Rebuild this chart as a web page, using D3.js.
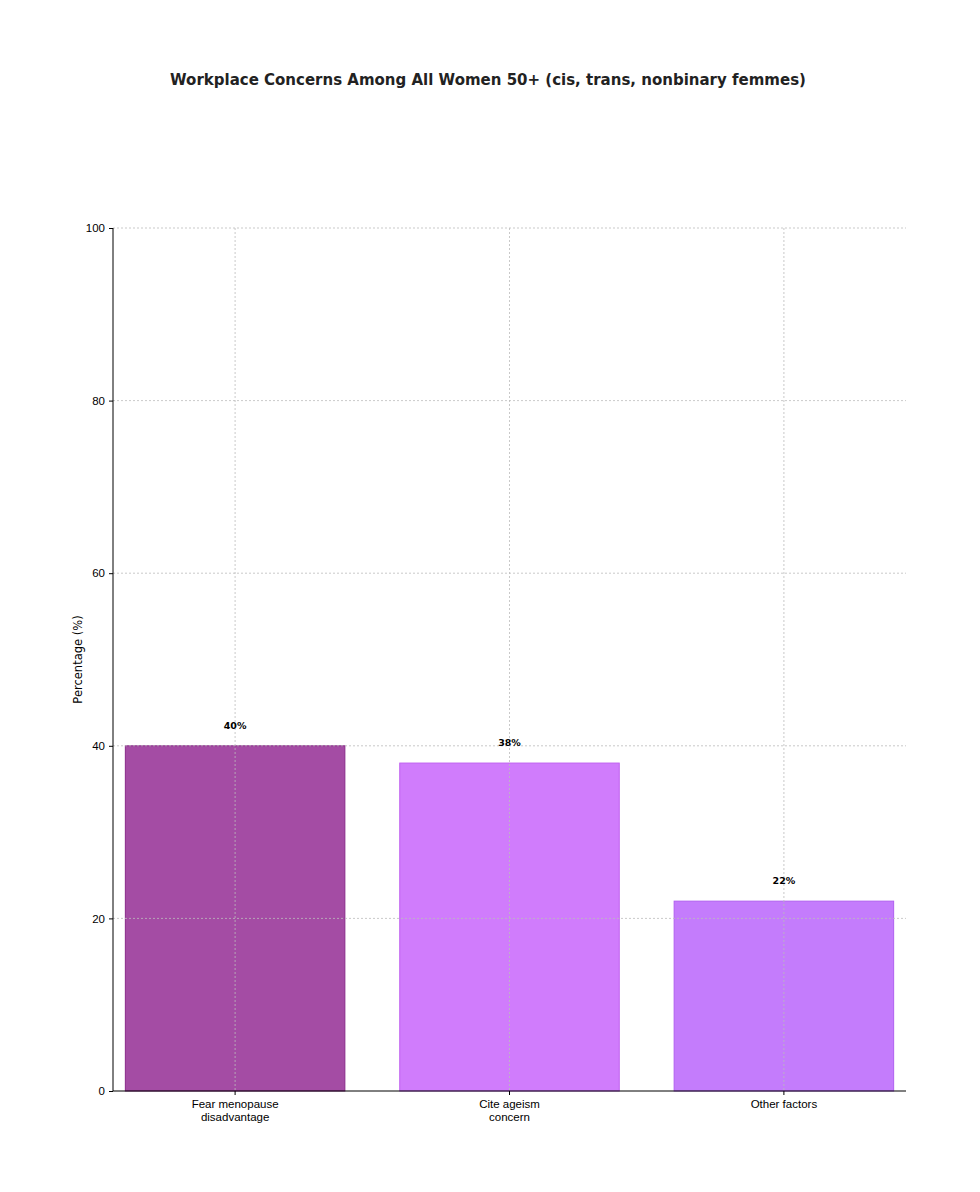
<!DOCTYPE html>
<html><head><meta charset="utf-8">
<script src="https://cdn.jsdelivr.net/npm/d3@7"></script>
<style>body{margin:0;background:#fff}</style>
</head><body>
<svg id="chart" width="980" height="1192"></svg>
<script>
const categories = ['Fear menopause\ndisadvantage', 'Cite ageism\nconcern', 'Other factors'];
const values = [40, 38, 22];
const colors = ['#a44ca4', '#d07cfc', '#c47cfc'];
const strokes = ['#8a2a8a', '#c060f0', '#b060f0'];
const yTicks = [0, 20, 40, 60, 80, 100];

const margin = {top: 228, right: 74, bottom: 101, left: 113};
const width = 980, height = 1192;
const svg = d3.select('#chart').style('font-family', '"DejaVu Sans", sans-serif');

const x = d3.scaleBand().domain(categories).range([margin.left, width - margin.right]).paddingInner(0.2).paddingOuter(0.045);
const y = d3.scaleLinear().domain([0, 100]).range([height - margin.bottom, margin.top]);

svg.append('text').attr('x', 488).attr('y', 85).attr('text-anchor', 'middle')
	.style('font-size', '15px').style('font-weight', 'bold').attr('fill', '#222')
	.text('Workplace Concerns Among All Women 50+ (cis, trans, nonbinary femmes)');

// bars
svg.selectAll('.bar').data(values).enter().append('rect')
	.attr('x', (d, i) => x(categories[i]))
	.attr('y', d => y(d))
	.attr('width', x.bandwidth())
	.attr('height', d => y(0) - y(d))
	.attr('fill', (d, i) => colors[i])
	.attr('stroke', (d, i) => strokes[i])
	.attr('stroke-width', 1);

// grid on top
const grid = svg.append('g').attr('stroke', '#bbb').attr('stroke-dasharray', '2,2').attr('stroke-width', 0.8);
yTicks.slice(1).forEach(t => grid.append('line').attr('x1', margin.left).attr('x2', width - margin.right).attr('y1', y(t)).attr('y2', y(t)));
categories.forEach(c => {
	const cx = x(c) + x.bandwidth() / 2;
	grid.append('line').attr('x1', cx).attr('x2', cx).attr('y1', y(100)).attr('y2', y(0));
});

// value labels
svg.selectAll('.lbl').data(values).enter().append('text')
	.attr('x', (d, i) => x(categories[i]) + x.bandwidth() / 2)
	.attr('y', d => y(d) - 17)
	.attr('text-anchor', 'middle').style('font-size', '9.5px').style('font-weight', 'bold')
	.text(d => d + '%');

// axes
const yAxis = svg.append('g').attr('transform', `translate(${margin.left},0)`)
	.call(d3.axisLeft(y).tickValues(yTicks).tickSize(4).tickPadding(4));
yAxis.selectAll('text').style('font-size', '11.5px').attr('fill', '#000');
yAxis.select('.domain').attr('d', `M0,${y(100)}V${y(0)}`);

const xAxis = svg.append('g').attr('transform', `translate(0,${y(0)})`)
	.call(d3.axisBottom(x).tickSize(4).tickFormat(''));
xAxis.select('.domain').attr('d', `M${margin.left},0H${width - margin.right}`);
xAxis.selectAll('.tick').each(function(d) {
	const t = d3.select(this).append('text').attr('fill', '#000').attr('text-anchor', 'middle').style('font-size', '11.5px');
	d.split('\n').forEach((line, i) => t.append('tspan').attr('x', 0).attr('y', 17 + i * 13).text(line));
});

svg.append('text').attr('transform', `translate(82,${(y(0) + y(100)) / 2}) rotate(-90)`)
	.attr('text-anchor', 'middle').style('font-size', '11.5px').text('Percentage (%)');
</script>
</body></html>
